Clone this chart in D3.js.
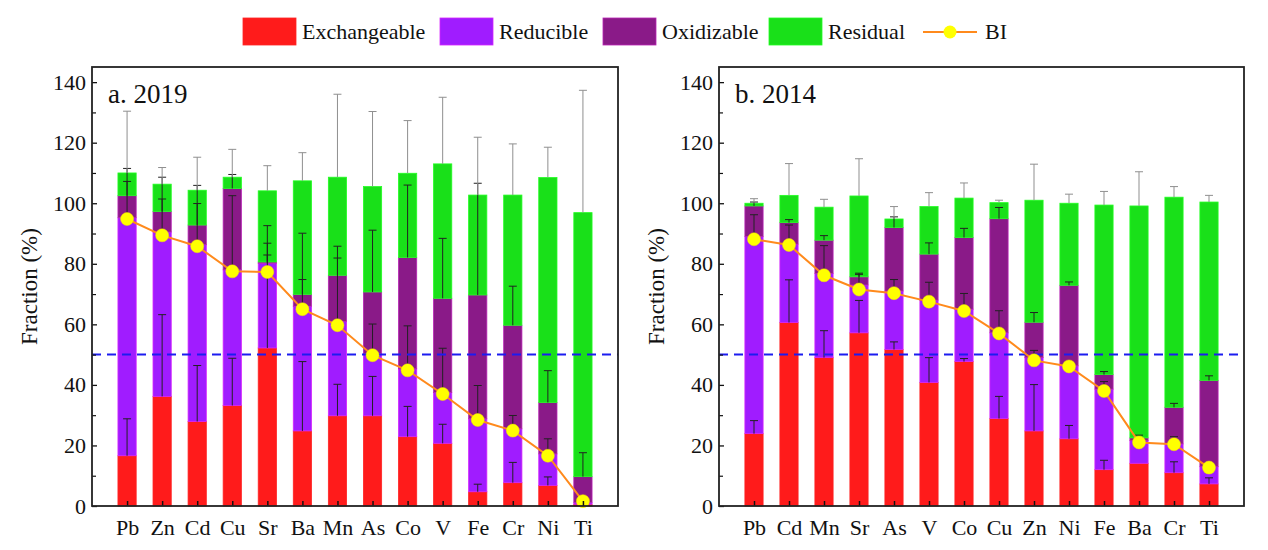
<!DOCTYPE html>
<html>
<head>
<meta charset="utf-8">
<script src="https://cdn.jsdelivr.net/npm/d3@7"></script>
<style>
  body { margin: 0; background: #fff; }
  text { font-family: "Liberation Serif", "Times New Roman", serif; fill: #111; }
</style>
</head>
<body>
<svg id="chart" width="1268" height="550"></svg>
<script>
// ---- data, 2019 panel ----
const elements2019 = ['Pb', 'Zn', 'Cd', 'Cu', 'Sr', 'Ba', 'Mn', 'As', 'Co', 'V', 'Fe', 'Cr', 'Ni', 'Ti'];
const exch2019 = [16.6, 36.2, 27.9, 33.2, 52.2, 24.8, 29.8, 29.8, 22.9, 20.7, 4.7, 7.7, 6.8, 0.6];
const redu2019 = [78.6, 54.3, 58.4, 44.8, 28.0, 41.2, 31.2, 20.5, 22.4, 16.8, 24.1, 17.8, 10.4, 0.6];
const oxid2019 = [7.3, 6.8, 6.5, 26.9, 0.4, 3.9, 15.2, 20.4, 36.8, 31.1, 40.9, 34.2, 17.0, 8.5];
const resi2019 = [7.5, 9.0, 11.5, 3.7, 23.5, 37.5, 32.4, 34.8, 27.8, 44.4, 33.0, 43.0, 74.3, 87.2];
const exchErr2019 = [12.2, 27.0, 18.5, 15.6, 30.7, 22.9, 10.4, 13.0, 10.0, 6.3, 2.5, 6.7, 2.8, 0];
const reduErr2019 = [12.0, 10.9, 13.6, 24.5, 6.6, 8.8, 20.9, 9.8, 14.2, 14.6, 11.0, 4.4, 5.0, 0];
const oxidErr2019 = [9.0, 11.3, 13.1, 4.6, 12.0, 20.2, 9.6, 20.4, 23.9, 19.8, 36.9, 12.9, 10.5, 7.9];
const resiErr2019 = [20.4, 5.5, 10.9, 9.2, 8.3, 9.3, 27.4, 24.8, 17.4, 22.0, 19.1, 16.9, 10.0, 40.4];
const bi2019 = [94.8, 89.4, 85.8, 77.5, 77.3, 65.0, 59.7, 49.8, 44.8, 37.0, 28.4, 24.9, 16.6, 1.6];

// ---- data, 2014 panel ----
const elements2014 = ['Pb', 'Cd', 'Mn', 'Sr', 'As', 'V', 'Co', 'Cu', 'Zn', 'Ni', 'Fe', 'Ba', 'Cr', 'Ti'];
const exch2014 = [23.9, 60.6, 49.0, 57.2, 51.7, 40.8, 47.7, 28.9, 24.8, 22.2, 12.0, 14.1, 11.0, 7.3];
const redu2014 = [65.1, 25.9, 27.8, 15.8, 19.3, 27.2, 17.3, 28.3, 24.2, 24.1, 26.6, 7.5, 9.5, 5.7];
const oxid2014 = [10.1, 7.1, 11.0, 2.7, 21.0, 15.2, 23.7, 37.7, 11.7, 26.6, 4.8, 0.9, 12.1, 28.5];
const resi2014 = [0.9, 9.0, 10.9, 26.7, 2.8, 15.7, 13.0, 5.3, 40.3, 27.1, 56.0, 76.6, 69.4, 58.9];
const exchErr2014 = [4.3, 14.1, 8.9, 10.7, 2.5, 8.2, 1.0, 7.3, 15.3, 4.4, 3.1, 0, 3.6, 2.0];
const reduErr2014 = [7.2, 6.3, 9.2, 3.5, 3.8, 5.9, 5.2, 7.3, 2.4, 1.0, 2.5, 1.0, 2.4, 0.5];
const oxidErr2014 = [1.3, 1.0, 1.5, 1.2, 3.5, 3.7, 3.0, 3.7, 3.2, 1.1, 1.0, 0.9, 1.3, 1.5];
const resiErr2014 = [1.5, 10.5, 2.6, 12.3, 4.1, 4.6, 5.0, 0.8, 11.9, 3.0, 4.5, 11.3, 3.5, 2.2];
const bi2014 = [88.1, 86.2, 76.2, 71.5, 70.3, 67.5, 64.4, 57.0, 48.1, 46.1, 38.0, 21.0, 20.4, 12.7];

const fractions = ['Exchangeable', 'Reducible', 'Oxidizable', 'Residual'];
const yTicks = [0, 20, 40, 60, 80, 100, 120, 140];
const threshold = 50;

const colors = {
  Exchangeable: '#ff1b1b',
  Reducible: '#a01cff',
  Oxidizable: '#8a1a88',
  Residual: '#19e019'
};

const svg = d3.select('#chart');
svg.append('rect').attr('width', 1268).attr('height', 550).attr('fill', '#fff');

const plotTop = 67, plotBottom = 506;
const y = d3.scaleLinear().domain([0, 145]).range([plotBottom, plotTop]);

const panels = [
  { title: 'a. 2019', x0: 92, x1: 618, elements: elements2019,
    parts: [exch2019, redu2019, oxid2019, resi2019],
    errs: [exchErr2019, reduErr2019, oxidErr2019, resiErr2019], bi: bi2019 },
  { title: 'b. 2014', x0: 719, x1: 1244, elements: elements2014,
    parts: [exch2014, redu2014, oxid2014, resi2014],
    errs: [exchErr2014, reduErr2014, oxidErr2014, resiErr2014], bi: bi2014 }
];

panels.forEach(function (p) {
  const g = svg.append('g');

  const x = d3.scalePoint().domain(p.elements).range([p.x0, p.x1]).padding(1);
  const barW = x.step() * 0.52;

  // rows for the stack
  const rows = p.elements.map(function (el, i) {
    const r = { el: el };
    fractions.forEach(function (f, k) { r[f] = p.parts[k][i]; });
    return r;
  });
  const series = d3.stack().keys(fractions)(rows);

  g.selectAll('g.layer')
    .data(series)
    .enter()
    .append('g')
    .attr('class', 'layer')
    .attr('fill', function (d) { return colors[d.key]; })
    .attr('stroke', function (d) { return d3.color(colors[d.key]).brighter(0.8); })
    .attr('stroke-width', 0.8)
    .selectAll('rect')
    .data(function (d) { return d; })
    .enter()
    .append('rect')
    .attr('x', function (d) { return x(d.data.el) - barW / 2; })
    .attr('y', function (d) { return y(d[1]); })
    .attr('width', barW)
    .attr('height', function (d) { return Math.max(0, y(d[0]) - y(d[1])); });

  // error bars (plus side only), residual ones in grey
  const errData = [];
  series.forEach(function (s, k) {
    s.forEach(function (d, i) {
      const e = p.errs[k][i];
      if (e > 0) errData.push({ el: d.data.el, top: d[1], err: e, key: s.key });
    });
  });
  const eb = g.selectAll('g.err')
    .data(errData)
    .enter()
    .append('g')
    .attr('class', 'err')
    .attr('stroke', function (d) { return d.key === 'Residual' ? '#8f8f8f' : '#222'; })
    .attr('stroke-width', 1);
  eb.append('line')
    .attr('x1', function (d) { return x(d.el); })
    .attr('x2', function (d) { return x(d.el); })
    .attr('y1', function (d) { return y(d.top); })
    .attr('y2', function (d) { return y(d.top + d.err); });
  eb.append('line')
    .attr('x1', function (d) { return x(d.el) - 4; })
    .attr('x2', function (d) { return x(d.el) + 4; })
    .attr('y1', function (d) { return y(d.top + d.err); })
    .attr('y2', function (d) { return y(d.top + d.err); });

  // 50 % reference line
  g.append('line')
    .attr('x1', p.x0).attr('x2', p.x1)
    .attr('y1', y(threshold)).attr('y2', y(threshold))
    .attr('stroke', '#1c1cf0').attr('stroke-width', 2)
    .attr('stroke-dasharray', '9,6');

  // BI line + points
  const line = d3.line()
    .x(function (d, i) { return x(p.elements[i]); })
    .y(function (d) { return y(d); });
  g.append('path')
    .datum(p.bi)
    .attr('d', line)
    .attr('fill', 'none')
    .attr('stroke', '#ff8a1c')
    .attr('stroke-width', 2);
  g.selectAll('circle.bi')
    .data(p.bi)
    .enter()
    .append('circle')
    .attr('class', 'bi')
    .attr('cx', function (d, i) { return x(p.elements[i]); })
    .attr('cy', function (d) { return y(d); })
    .attr('r', 6.5)
    .attr('fill', '#ffff00')
    .attr('stroke', '#f2e600')
    .attr('stroke-width', 0.5);

  // axes, ticks pointing inward
  const yAxis = g.append('g')
    .attr('transform', 'translate(' + p.x0 + ',0)')
    .call(d3.axisLeft(y).tickValues(yTicks).tickSize(-5).tickPadding(6));
  yAxis.selectAll('text').style('font-size', '22px').attr('font-family', 'Liberation Serif');
  yAxis.select('.domain').remove();
  yAxis.selectAll('line').attr('stroke', '#111').attr('stroke-width', 1.3);

  g.append('g')
    .attr('transform', 'translate(' + p.x0 + ',0)')
    .call(d3.axisLeft(y).tickValues(d3.range(10, 145, 20)).tickSize(-4).tickFormat(''))
    .call(function (a) { a.select('.domain').remove(); a.selectAll('line').attr('stroke', '#111').attr('stroke-width', 1.2); });

  const xAxis = g.append('g')
    .attr('transform', 'translate(0,' + plotBottom + ')')
    .call(d3.axisBottom(x).tickSize(-5).tickPadding(8));
  xAxis.select('.domain').remove();
  xAxis.selectAll('line').attr('stroke', '#111').attr('stroke-width', 1.5);
  xAxis.selectAll('text').style('font-size', '22px').attr('font-family', 'Liberation Serif').attr('dy', '0.95em');

  // frame
  g.append('rect')
    .attr('x', p.x0).attr('y', plotTop)
    .attr('width', p.x1 - p.x0).attr('height', plotBottom - plotTop)
    .attr('fill', 'none').attr('stroke', '#222').attr('stroke-width', 1.8);

  g.append('text')
    .attr('x', p.x0 + 16).attr('y', plotTop + 36)
    .style('font-size', '27px')
    .text(p.title);

  g.append('text')
    .attr('transform', 'translate(' + (p.x0 - 55) + ',' + ((plotTop + plotBottom) / 2) + ') rotate(-90)')
    .attr('text-anchor', 'middle')
    .style('font-size', '23px')
    .text('Fraction (%)');
});

// legend
const legend = svg.append('g').attr('transform', 'translate(243,18)');
const legendX = [0, 197, 360, 526];
fractions.forEach(function (f, i) {
  legend.append('rect')
    .attr('x', legendX[i]).attr('y', 0)
    .attr('width', 53).attr('height', 27)
    .attr('fill', colors[f])
    .attr('stroke', d3.color(colors[f]).brighter(0.8)).attr('stroke-width', 0.8);
  legend.append('text')
    .attr('x', legendX[i] + 59).attr('y', 21)
    .style('font-size', '22px')
    .text(f);
});
legend.append('line')
  .attr('x1', 680).attr('x2', 734).attr('y1', 14).attr('y2', 14)
  .attr('stroke', '#ff8a1c').attr('stroke-width', 2);
legend.append('circle')
  .attr('cx', 707).attr('cy', 14).attr('r', 6.5)
  .attr('fill', '#ffff00');
legend.append('text')
  .attr('x', 742).attr('y', 21)
  .style('font-size', '22px')
  .text('BI');
</script>
</body>
</html>
